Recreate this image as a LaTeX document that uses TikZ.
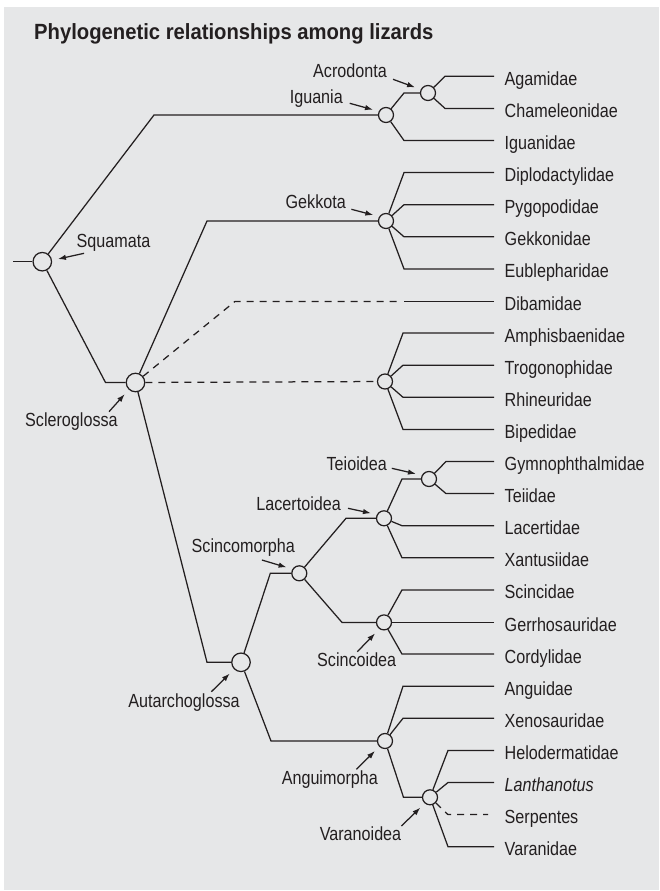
\documentclass[tikz,border=0pt]{standalone}
\usepackage{fontspec}
\setmainfont{Liberation Sans}
\newfontfamily\labelfont{Liberation Sans}[FakeStretch=0.85]
\newfontfamily\titlefont{Liberation Sans}[FakeStretch=0.92]
\usepackage{tikz}
\usetikzlibrary{arrows.meta}
\definecolor{ink}{RGB}{35,31,32}
\definecolor{panel}{RGB}{230,231,232}
\tikzset{
  clade/.style={circle, draw=ink, fill=panel, line width=1.25pt, inner sep=0pt, minimum size=15pt},
  bigclade/.style={clade, minimum size=18.5pt},
  taxon/.style={anchor=west, inner xsep=10.5pt, inner ysep=0pt, text height=22pt, text depth=4pt,
    text=ink, font=\labelfont\fontsize{19pt}{22pt}\selectfont},
  cladename/.style={inner sep=0pt, text=ink, font=\labelfont\fontsize{19pt}{22pt}\selectfont},
  heading/.style={inner sep=0pt, anchor=base west, text=ink,
    font=\titlefont\bfseries\fontsize{22pt}{26pt}\selectfont},
  branch/.style={draw=ink, line width=1.25pt},
  dashedbranch/.style={branch, dash pattern=on 7pt off 6pt},
  pointer/.style={draw=ink, line width=1.25pt, -{Latex[length=8pt,width=5.5pt]}, shorten >=6pt}
}

\begin{document}
\begin{tikzpicture}[x=1pt, y=-1pt]
\useasboundingbox (0,0) rectangle (659,891);
\fill[panel] (4,7.5) rectangle (659,890);
\node[heading] (title) at (34,39.3) {Phylogenetic relationships among lizards};

\node[taxon] (agamidae) at (494,76.3) {Agamidae};
\node[taxon] (chameleonidae) at (494,108.4) {Chameleonidae};
\node[taxon] (iguanidae) at (494,140.5) {Iguanidae};
\node[taxon] (diplodactylidae) at (494,172.6) {Diplodactylidae};
\node[taxon] (pygopodidae) at (494,204.7) {Pygopodidae};
\node[taxon] (gekkonidae) at (494,236.8) {Gekkonidae};
\node[taxon] (eublepharidae) at (494,268.9) {Eublepharidae};
\node[taxon] (dibamidae) at (494,301.4) {Dibamidae};
\node[taxon] (amphisbaenidae) at (494,333.1) {Amphisbaenidae};
\node[taxon] (trogonophidae) at (494,365.2) {Trogonophidae};
\node[taxon] (rhineuridae) at (494,397.3) {Rhineuridae};
\node[taxon] (bipedidae) at (494,429.4) {Bipedidae};
\node[taxon] (gymnophthalmidae) at (494,461.5) {Gymnophthalmidae};
\node[taxon] (teiidae) at (494,493.6) {Teiidae};
\node[taxon] (lacertidae) at (494,525.7) {Lacertidae};
\node[taxon] (xantusiidae) at (494,557.8) {Xantusiidae};
\node[taxon] (scincidae) at (494,589.9) {Scincidae};
\node[taxon] (gerrhosauridae) at (494,622.4) {Gerrhosauridae};
\node[taxon] (cordylidae) at (494,654.1) {Cordylidae};
\node[taxon] (anguidae) at (494,686.2) {Anguidae};
\node[taxon] (xenosauridae) at (494,718.3) {Xenosauridae};
\node[taxon] (helodermatidae) at (494,750.4) {Helodermatidae};
\node[taxon] (lanthanotus) at (494,782.5) {\itshape Lanthanotus};
\node[taxon] (serpentes) at (494,814.6) {Serpentes};
\node[taxon] (varanidae) at (494,846.7) {Varanidae};

\coordinate (root) at (13,261.7);
\node[bigclade] (squamata) at (42.3,261.7) {};
\node[clade] (iguania) at (386,115) {};
\node[clade] (acrodonta) at (428,93) {};
\node[clade] (gekkota) at (386,221) {};
\node[bigclade] (scleroglossa) at (135.5,382.5) {};
\node[clade] (amphisbaenia) at (385,381.5) {};
\node[bigclade] (autarchoglossa) at (241,662.3) {};
\node[clade] (scincomorpha) at (299.3,573.3) {};
\node[clade] (lacertoidea) at (384,518.3) {};
\node[clade] (teioidea) at (429,479) {};
\node[clade] (scincoidea) at (384,622.4) {};
\node[clade] (anguimorpha) at (385,741) {};
\node[clade] (varanoidea) at (430,797.3) {};

\draw[branch] (root) -- (squamata);
\draw[branch] (iguania) -- ++(-232,0) -- (squamata);
\draw[branch] (scleroglossa) -- ++(-30,0) -- (squamata);
\draw[branch] (acrodonta) -- ++(-24,0) -- (iguania);
\draw[branch] (agamidae.west) -- ++(-49,0) -- (acrodonta);
\draw[branch] (chameleonidae.west) -- ++(-49,0) -- (acrodonta);
\draw[branch] (iguanidae.west) -- ++(-90,0) -- (iguania);
\draw[branch] (gekkota) -- ++(-179,0) -- (scleroglossa);
\draw[branch] (diplodactylidae.west) -- ++(-90,0) -- (gekkota);
\draw[branch] (pygopodidae.west) -- ++(-90,0) -- (gekkota);
\draw[branch] (gekkonidae.west) -- ++(-90,0) -- (gekkota);
\draw[branch] (eublepharidae.west) -- ++(-90,0) -- (gekkota);
\draw[branch] (dibamidae.west) -- ++(-90,0);
\draw[dashedbranch] (scleroglossa) -- ([xshift=-259pt]dibamidae.west) -- ([xshift=-96pt]dibamidae.west);
\draw[dashedbranch] (scleroglossa) -- (amphisbaenia);
\draw[branch] (amphisbaenidae.west) -- ++(-91,0) -- (amphisbaenia);
\draw[branch] (trogonophidae.west) -- ++(-91,0) -- (amphisbaenia);
\draw[branch] (rhineuridae.west) -- ++(-91,0) -- (amphisbaenia);
\draw[branch] (bipedidae.west) -- ++(-91,0) -- (amphisbaenia);
\draw[branch] (autarchoglossa) -- ++(-34,0) -- (scleroglossa);
\draw[branch] (scincomorpha) -- ++(-29,0) -- (autarchoglossa);
\draw[branch] (lacertoidea) -- ++(-38,0) -- (scincomorpha);
\draw[branch] (teioidea) -- ++(-27,0) -- (lacertoidea);
\draw[branch] (gymnophthalmidae.west) -- ++(-48,0) -- (teioidea);
\draw[branch] (teiidae.west) -- ++(-48,0) -- (teioidea);
\draw[branch] (lacertidae.west) -- ++(-92,0) -- (lacertoidea);
\draw[branch] (xantusiidae.west) -- ++(-92,0) -- (lacertoidea);
\draw[branch] (scincoidea) -- ++(-42,0) -- (scincomorpha);
\draw[branch] (scincidae.west) -- ++(-92,0) -- (scincoidea);
\draw[branch] (gerrhosauridae.west) -- (scincoidea);
\draw[branch] (cordylidae.west) -- ++(-92,0) -- (scincoidea);
\draw[branch] (anguimorpha) -- ++(-114,0) -- (autarchoglossa);
\draw[branch] (anguidae.west) -- ++(-91,0) -- (anguimorpha);
\draw[branch] (xenosauridae.west) -- ++(-91,0) -- (anguimorpha);
\draw[branch] (varanoidea) -- ++(-26.5,0) -- (anguimorpha);
\draw[branch] (helodermatidae.west) -- ++(-46,0) -- (varanoidea);
\draw[branch] (lanthanotus.west) -- ++(-46,0) -- (varanoidea);
\draw[dashedbranch] (varanoidea) -- ([xshift=-46pt]serpentes.west) -- ([xshift=-6pt]serpentes.west);
\draw[branch] (varanidae.west) -- ++(-46,0) -- (varanoidea);

\node[cladename, anchor=base east] (acrodontalbl) at (387,77.3) {Acrodonta};
\node[cladename, anchor=base east] (iguanialbl) at (343,103.3) {Iguania};
\node[cladename, anchor=base east] (gekkotalbl) at (346,208.3) {Gekkota};
\node[cladename, anchor=base west] (squamatalbl) at (76.5,247.3) {Squamata};
\node[cladename, anchor=base west] (scleroglossalbl) at (25,426.7) {Scleroglossa};
\node[cladename, anchor=base east] (teioidealbl) at (387,470) {Teioidea};
\node[cladename, anchor=base east] (lacertoidealbl) at (341,510.7) {Lacertoidea};
\node[cladename, anchor=base] (scincomorphalbl) at (243.3,552.7) {Scincomorpha};
\node[cladename, anchor=base] (scincoidealbl) at (356.7,666.7) {Scincoidea};
\node[cladename, anchor=base] (autarchoglossalbl) at (184,707.3) {Autarchoglossa};
\node[cladename, anchor=base] (anguimorphalbl) at (329.8,784.3) {Anguimorpha};
\node[cladename, anchor=base east] (varanoidealbl) at (401.4,840.7) {Varanoidea};

\draw[pointer] ([shift={(6,2)}]acrodontalbl.base east) -- (acrodonta.154);
\draw[pointer] ([shift={(6.7,0)}]iguanialbl.base east) -- (iguania.153);
\draw[pointer] ([shift={(5.4,1)}]gekkotalbl.base east) -- (gekkota.147);
\draw[pointer] ([shift={(7.6,6)}]squamatalbl.base west) -- (squamata.8);
\draw[pointer] ([shift={(84,-15)}]scleroglossalbl.base west) -- (scleroglossa.227);
\draw[pointer] ([shift={(4.8,-1.7)}]teioidealbl.base east) -- (teioidea.152);
\draw[pointer] ([shift={(7,-2.4)}]lacertoidealbl.base east) -- (lacertoidea.152);
\draw[pointer] ([shift={(18.6,7.3)}]scincomorphalbl.base) -- (scincomorpha.149);
\draw[pointer] ([shift={(0.6,-15)}]scincoidealbl.base) -- (scincoidea.235);
\draw[pointer] ([shift={(27.4,-15.6)}]autarchoglossalbl.base) -- (autarchoglossa.225);
\draw[pointer] ([shift={(26.6,-15)}]anguimorphalbl.base) -- (anguimorpha.225);
\draw[pointer] ([shift={(0,-14.7)}]varanoidealbl.base east) -- (varanoidea.229);
\end{tikzpicture}
\end{document}
